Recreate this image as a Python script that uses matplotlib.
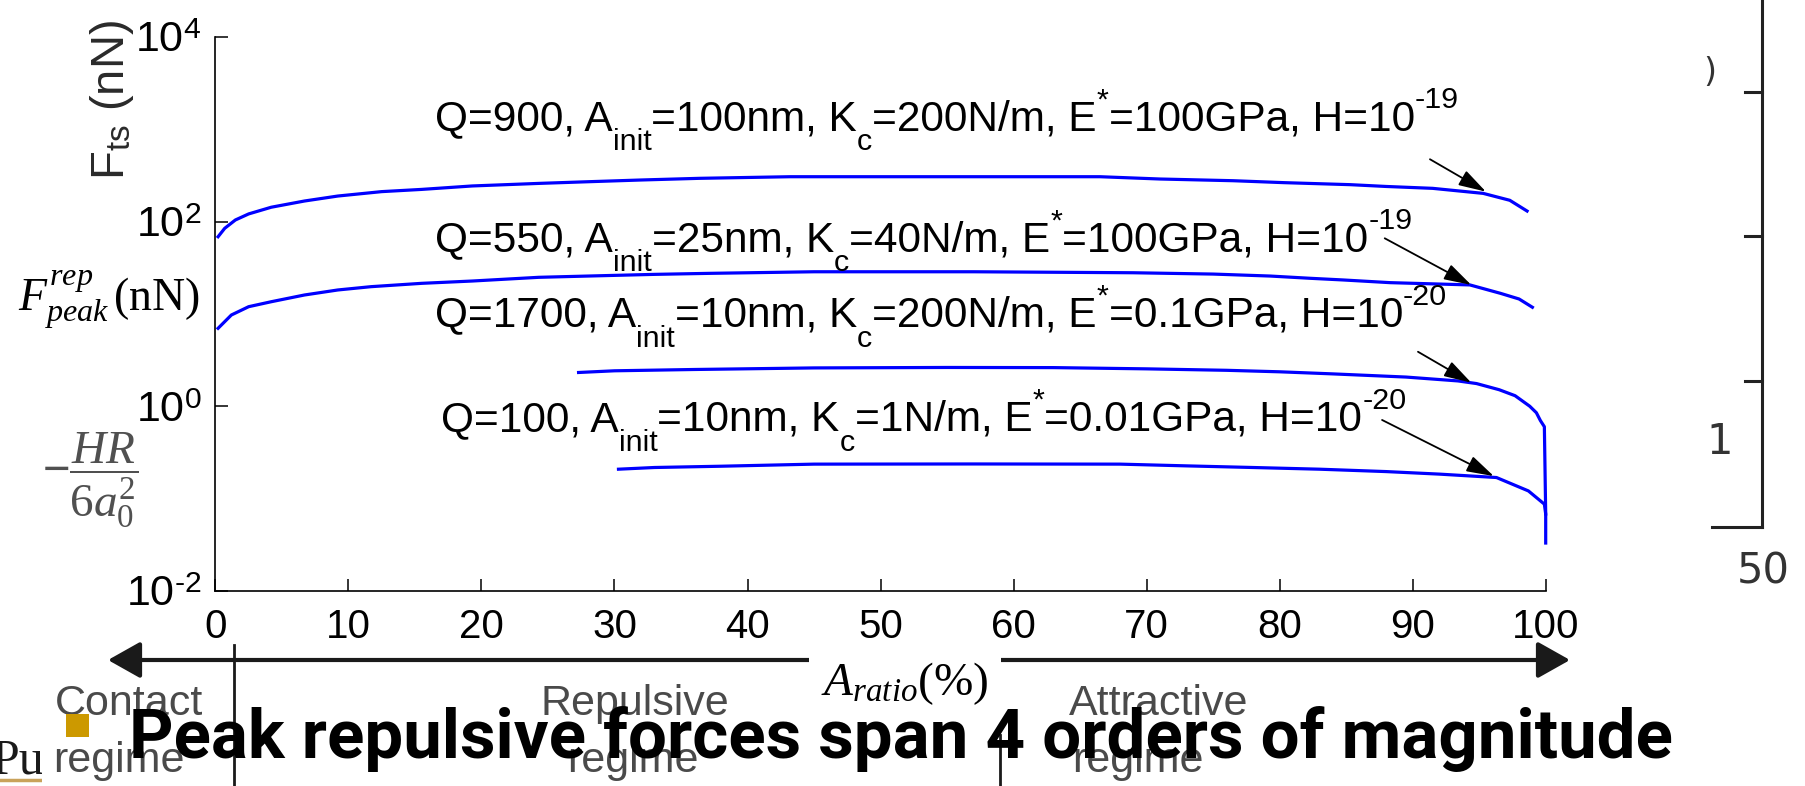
import re
import matplotlib
matplotlib.use('Agg')
import matplotlib.pyplot as plt
from matplotlib.patches import Rectangle, FancyArrowPatch
from matplotlib.lines import Line2D
from matplotlib.ticker import NullLocator
from matplotlib.transforms import IdentityTransform

W, H = 1806, 786
plt.rcParams.update({
    'font.family': ['Liberation Sans', 'DejaVu Sans'],
    'mathtext.fontset': 'custom',
    'mathtext.rm': 'Liberation Sans',
    'mathtext.it': 'Liberation Serif:italic',
    'mathtext.sf': 'Liberation Serif',
    'mathtext.bf': 'Liberation Sans:bold',
})

# ---------------- data ----------------
x_q900 = [0.2, 0.7, 1.5, 2.5, 4.2, 6.7, 9.2, 12.5, 15.5, 19.3, 24.3, 28, 32, 36.4,
          43.2, 55, 66.5, 71, 76.5, 80.3, 85.3, 88, 91.5, 95.3, 97.3, 98.6]
f_q900 = [68.5, 84.5, 104, 121, 143, 167, 189, 211, 223, 243, 259, 270, 282, 294,
          306, 306, 306, 289, 277, 264, 251, 240, 229, 202, 170, 130]

x_q550 = [0.2, 1.2, 2.5, 4.2, 6.7, 9.2, 11.7, 15.5, 19.3, 24.3, 28, 33, 37.2, 45,
          57, 69, 75, 79.3, 82.3, 84.8, 88.3, 94.3, 96.6, 98, 99]
f_q550 = [6.98, 9.73, 11.97, 13.55, 16.03, 18.16, 19.72, 21.43, 22.7, 24.9, 25.7,
          26.8, 27.5, 28.6, 28.6, 27.9, 27.0, 25.7, 24.3, 23.3, 21.8, 20.6, 16.7, 14.5, 11.8]

x_q1700 = [27.3, 30, 36, 45, 55, 63, 70, 76, 80, 84, 89.5, 93.4, 94.8, 96.5, 97.7,
           98.8, 99.3, 99.6, 99.9, 100]
f_q1700 = [2.32, 2.42, 2.50, 2.60, 2.63, 2.62, 2.54, 2.45, 2.36, 2.24, 2.07, 1.88,
           1.76, 1.51, 1.30, 1.00, 0.85, 0.70, 0.60, 0.068]

x_q100 = [30.3, 33, 38, 45, 57, 68, 73, 78, 83, 88, 92, 96.3, 98.7, 99.9, 100, 100]
f_q100 = [0.208, 0.217, 0.224, 0.236, 0.237, 0.236, 0.226, 0.217, 0.208, 0.196,
          0.184, 0.169, 0.121, 0.087, 0.068, 0.033]

curve_labels = [
    'Q=900, A_{init}=100nm, K_{c}=200N/m, E^{*}=100GPa, H=10^{-19}',
    'Q=550, A_{init}=25nm, K_{c}=40N/m, E^{*}=100GPa, H=10^{-19}',
    'Q=1700, A_{init}=10nm, K_{c}=200N/m, E^{*}=0.1GPa, H=10^{-20}',
    'Q=100, A_{init}=10nm, K_{c}=1N/m, E^{*}=0.01GPa, H=10^{-20}',
]
x_ticks = [0, 10, 20, 30, 40, 50, 60, 70, 80, 90, 100]
y_ticks = [1e-2, 1e0, 1e2, 1e4]
y_tick_labels = [r'$10^{\text{-}2}$', r'$10^{0}$', r'$10^{2}$', r'$10^{4}$']
regime_labels = ['Contact', 'Repulsive', 'Attractive']
title_text = 'Peak repulsive forces span 4 orders of magnitude'

# ---------------- figure ----------------
fig = plt.figure(figsize=(W / 100, H / 100), dpi=100)
fig.patch.set_facecolor('white')
r = fig.canvas.get_renderer()


def fx(x):
    return x / W


def fy(y):
    return 1 - y / H


ax_l, ax_r, ax_t, ax_b = 215.4, 1545.7, 36.9, 590.9
ax = fig.add_axes([fx(ax_l), fy(ax_b), (ax_r - ax_l) / W, (ax_b - ax_t) / H])
for xs, ys in [(x_q900, f_q900), (x_q550, f_q550), (x_q1700, f_q1700), (x_q100, f_q100)]:
    ax.plot(xs, ys, color='#0000FF', lw=2.3, clip_on=False, solid_joinstyle='round')

ax.set_yscale('log')
ax.set_xlim(0, 100)
ax.set_ylim(1e-2, 1e4)
ax.set_xticks(x_ticks)
ax.set_xticklabels([str(v) for v in x_ticks])
ax.set_yticks(y_ticks)
ax.set_yticklabels(y_tick_labels)
ax.yaxis.set_minor_locator(NullLocator())
ax.xaxis.set_minor_locator(NullLocator())
for s in ['top', 'right']:
    ax.spines[s].set_visible(False)
for s in ['left', 'bottom']:
    ax.spines[s].set_linewidth(1.2)
ax.tick_params(direction='in', length=9, width=1.1)
ax.tick_params(axis='y', labelsize=31, pad=10)
ax.tick_params(axis='x', labelsize=29, pad=12)
ax.patch.set_alpha(0)


# curve annotations, laid out piece by piece (sub/superscripts like MATLAB)
def layout_label(spec, x0, ytop, size, draw=True):
    parts = re.split(r'([_^]\{[^}]*\})', spec)
    em = size * 100 / 72
    x = x0
    base = H - ytop
    for p in parts:
        if not p:
            continue
        if p[0] == '_':
            s, fs, dy = p[2:-1], size * 0.72, -0.47 * em
        elif p[0] == '^':
            s, fs, dy = p[2:-1], size * 0.72, 0.52 * em
        else:
            s, fs, dy = p, size, 0
        t = fig.text(x, base + dy, s, fontsize=fs, transform=IdentityTransform(),
                     ha='left', va='baseline', color='black')
        x += t.get_window_extent(renderer=r).width
        if not draw:
            t.remove()
    return x - x0


w0 = layout_label(curve_labels[0], 0, 0, 28, draw=False)
lab_size = 28 * 1025 / w0
label_pos = [(435, 130.5), (435, 251.5), (435, 326.7), (441, 431)]
for (lx, ly), s in zip(label_pos, curve_labels):
    layout_label(s, lx, ly, lab_size)

arrows = [((91.3, 473), (95.5, 211)), ((87.9, 65.9), (94.4, 20.6)),
          ((90.4, 3.89), (94.4, 1.80)), ((87.7, 0.71), (96.1, 0.175))]
for start, tip in arrows:
    ax.annotate('', xy=tip, xytext=start,
                arrowprops=dict(arrowstyle='-|>,head_length=0.6,head_width=0.18',
                                color='black', lw=1.3, mutation_scale=28,
                                shrinkA=0, shrinkB=0))

# y labels on the left
fig.text(fx(112), fy(100), r'F$_{\mathrm{ts}}$ (nN)', rotation=90, fontsize=34,
         color='#2a2a2a', ha='center', va='center')
fig.text(fx(18), fy(300), r'$F^{rep}_{peak}\,\mathsf{(nN)}$', fontsize=33,
         color='black', ha='left', va='center')
fig.text(fx(90), fy(480), r'$-\dfrac{HR}{\mathsf{6}a_{\mathsf{0}}^{\mathsf{2}}}$', fontsize=34,
         color='#505050', ha='center', va='center')

# bottom double arrow and regime separators
arr = FancyArrowPatch(posA=(fx(108), fy(660)), posB=(fx(1570), fy(660)),
                      transform=fig.transFigure,
                      arrowstyle='<|-|>,head_length=0.8,head_width=0.45',
                      mutation_scale=25, lw=3.0, color='#1a1a1a',
                      shrinkA=0, shrinkB=0, zorder=1)
fig.add_artist(arr)
fig.add_artist(Line2D([fx(234), fx(234)], [fy(645), fy(786)], color='#1a1a1a', lw=2,
                      transform=fig.transFigure, zorder=1))
fig.add_artist(Line2D([fx(1000), fx(1000)], [fy(735), fy(786)], color='#1a1a1a', lw=2,
                      transform=fig.transFigure, zorder=1))

# x label with white box breaking the arrow line
fig.text(fx(905), fy(695), r'$A_{ratio}\mathsf{(\%)}$', fontsize=34, ha='center',
         va='baseline', color='black', zorder=2,
         bbox=dict(boxstyle='square,pad=0.25', fc='white', ec='none'))

# regime labels
reg_pos = [(55, 53), (541, 567), (1069, 1072)]
for (x1, x2), name in zip(reg_pos, regime_labels):
    fig.text(fx(x1), fy(715), name, fontsize=31, color='#4a4a4a', ha='left', va='baseline', zorder=2)
    fig.text(fx(x2), fy(772), 'regime', fontsize=31, color='#4a4a4a', ha='left', va='baseline', zorder=2)

# right partial axis
rc = '#222222'
fig.add_artist(Line2D([fx(1762), fx(1762)], [fy(0), fy(527)], color=rc, lw=2.2, transform=fig.transFigure))
fig.add_artist(Line2D([fx(1712), fx(1762)], [fy(527), fy(527)], color=rc, lw=2.2, transform=fig.transFigure))
for ty in [92, 236, 381]:
    fig.add_artist(Line2D([fx(1745), fx(1762)], [fy(ty), fy(ty)], color=rc, lw=2.2,
                          transform=fig.transFigure))
fig.text(fx(1720), fy(442), '1', fontsize=30, family='DejaVu Sans', color='#333333', ha='center', va='center')
fig.text(fx(1763), fy(571), '50', fontsize=30, family='DejaVu Sans', color='#333333', ha='center', va='center')
fig.text(fx(1710), fy(72), ')', fontsize=24, family='DejaVu Sans', color='#333333', ha='center', va='center')

# slide remnants at bottom left
ax2 = fig.add_axes([0, fy(786), fx(42), (786 - 700) / H])
ax2.set_xlim(0, 42)
ax2.set_ylim(786, 700)
ax2.axis('off')
ax2.text(-8, 773, 'Pu', fontsize=36, family='Liberation Serif', color='#1a1a1a',
         ha='left', va='baseline', clip_on=True)
ax2.plot([0, 42], [780, 780], color='#C9A25A', lw=2.5)

fig.add_artist(Rectangle((fx(66), fy(737)), fx(23), 23 / H, transform=fig.transFigure,
                         fc='#CC9900', ec='none', zorder=4))

# slide title text (on top)
t = fig.text(fx(129), fy(758), title_text, fontsize=40, fontweight='bold',
             family=['Roboto', 'DejaVu Sans'], color='black', ha='left', va='baseline', zorder=5)
w = t.get_window_extent(renderer=r).width
t.set_fontsize(40 * (1541 / w))

fig.savefig('out.png', dpi=100, facecolor='white')
